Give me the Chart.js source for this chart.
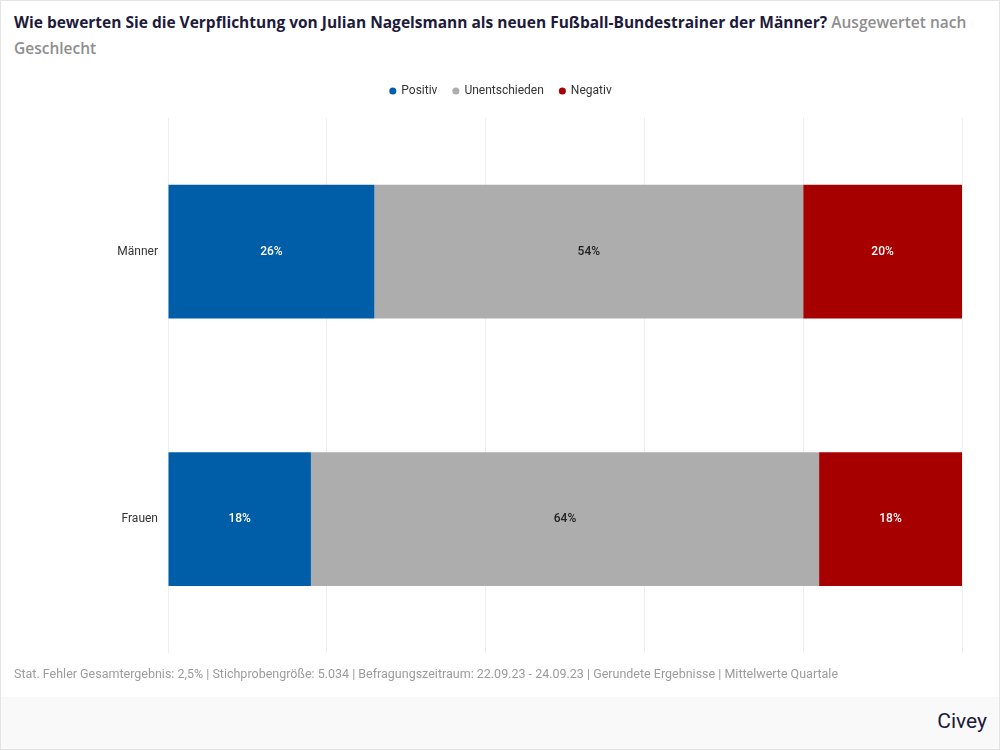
<!DOCTYPE html>
<html lang="de">
<head>
<meta charset="utf-8">
<title>Nagelsmann Umfrage</title>
<script src="https://cdn.jsdelivr.net/npm/chart.js@4"></script>
<style>
  html, body { margin: 0; padding: 0; background: #fff; }
  #frame {
    position: relative; width: 998px; height: 748px;
    border: 1px solid #e4e4e4; background: #fff; overflow: hidden;
    font-family: Roboto, "Noto Sans", sans-serif;
  }
  #title {
    position: absolute; left: 13px; top: 8px; width: 960px;
    font-family: "Open Sans", sans-serif; font-size: 15.5px; line-height: 26px;
    font-weight: 700; color: #201a3b;
  }
  #title span { font-weight: 600; color: #8e8e8e; }
  #chartBox { position: absolute; left: 0; top: 68px; width: 998px; height: 601px; }
  #note {
    position: absolute; left: 13px; top: 665px; font-size: 12.5px; color: #9b9b9b;
  }
  #footer {
    position: absolute; left: 0; top: 696px; width: 998px; height: 52px; background: #f9f9f9;
  }
  #logo {
    position: absolute; right: 12px; top: 12px; font-size: 21px; color: #201a3b;
    font-family: Roboto, sans-serif;
  }
</style>
</head>
<body>
<div id="frame">
  <div id="title">Wie bewerten Sie die Verpflichtung von Julian Nagelsmann als neuen Fußball-Bundestrainer der Männer? <span>Ausgewertet nach Geschlecht</span></div>
  <div id="chartBox"><canvas id="chart"></canvas></div>
  <div id="note">Stat. Fehler Gesamtergebnis: 2,5% | Stichprobengröße: 5.034 | Befragungszeitraum: 22.09.23 - 24.09.23 | Gerundete Ergebnisse | Mittelwerte Quartale</div>
  <div id="footer"><div id="logo">Civey</div></div>
</div>
<script>
const categories = ['Männer', 'Frauen'];
const seriesNames = ['Positiv', 'Unentschieden', 'Negativ'];
const positiv = [26, 18];
const unentschieden = [54, 64];
const negativ = [20, 18];
const colors = ['#005ea8', '#adadad', '#a60000'];
const labelColors = ['#ffffff', '#222222', '#ffffff'];

// extra space under the legend
const legendSpacing = {
  id: 'legendSpacing',
  beforeInit(chart) {
    const fit = chart.legend.fit;
    chart.legend.fit = function () {
      fit.bind(chart.legend)();
      this.height += 11;
    };
  }
};

// percent labels in the middle of each segment
const barLabels = {
  id: 'barLabels',
  afterDatasetsDraw(chart) {
    const ctx = chart.ctx;
    ctx.save();
    ctx.font = '500 12px Roboto, sans-serif';
    ctx.textAlign = 'center';
    ctx.textBaseline = 'middle';
    chart.data.datasets.forEach((ds, i) => {
      chart.getDatasetMeta(i).data.forEach((bar, j) => {
        const cx = (bar.x + bar.base) / 2;
        ctx.fillStyle = labelColors[i];
        ctx.fillText(ds.data[j] + '%', cx, bar.y);
      });
    });
    ctx.restore();
  }
};

const values = [positiv, unentschieden, negativ];

new Chart(document.getElementById('chart'), {
  type: 'bar',
  data: {
    labels: categories,
    datasets: seriesNames.map((name, i) => ({
      label: name,
      data: values[i],
      backgroundColor: colors[i],
      borderWidth: 0,
      barPercentage: 0.5,
      categoryPercentage: 1
    }))
  },
  options: {
    indexAxis: 'y',
    responsive: true,
    maintainAspectRatio: false,
    animation: false,
    layout: { padding: { left: 39, right: 37, top: 0, bottom: 0 } },
    scales: {
      x: {
        stacked: true,
        min: 0,
        max: 100,
        ticks: { display: false, stepSize: 20 },
        grid: { color: '#eeeeee', drawTicks: false },
        border: { display: false }
      },
      y: {
        stacked: true,
        afterFit(scale) { scale.width = 128; },
        ticks: { color: '#333333', font: { family: 'Roboto', size: 12 }, padding: 10 },
        grid: { display: false, drawTicks: false },
        border: { display: false }
      }
    },
    plugins: {
      legend: {
        position: 'top',
        labels: {
          usePointStyle: true,
          pointStyle: 'circle',
          boxWidth: 5,
          boxHeight: 5,
          color: '#333333',
          font: { family: 'Roboto', size: 12 },
          padding: 16
        }
      },
      tooltip: { enabled: false }
    }
  },
  plugins: [legendSpacing, barLabels]
});
</script>
</body>
</html>
